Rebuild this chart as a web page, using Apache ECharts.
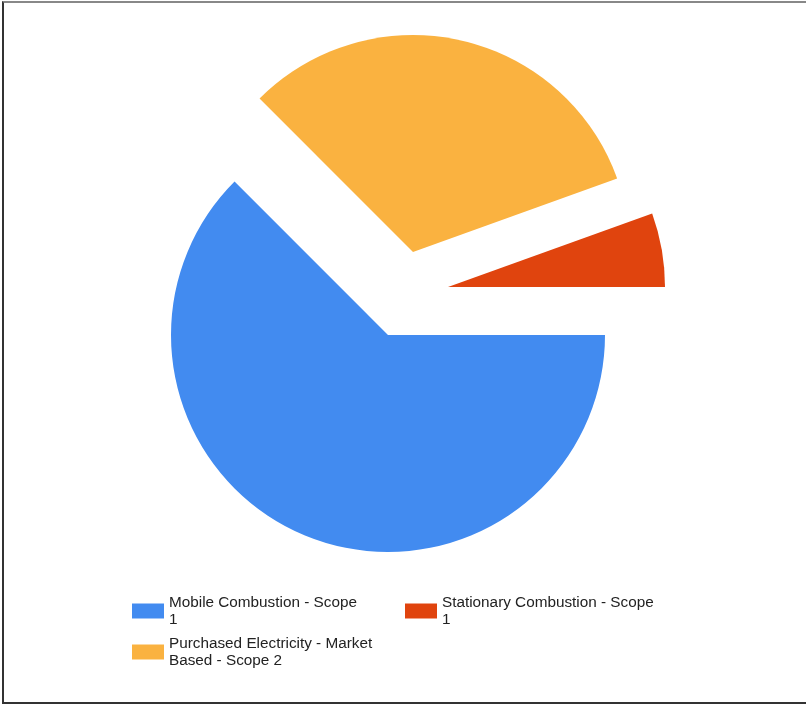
<!DOCTYPE html>
<html>
<head>
<meta charset="utf-8">
<script src="https://cdn.jsdelivr.net/npm/echarts@6/dist/echarts.min.js"></script>
<style>
  html, body { margin: 0; padding: 0; background: #fff; }
  #frame {
    position: absolute; left: 2px; top: 1px; width: 804px; height: 703px;
    border-top: 2px solid #888; border-left: 2px solid #333; border-bottom: 2px solid #333;
    box-sizing: border-box;
  }
  #chart { position: absolute; left: 0; top: 0; width: 806px; height: 704px; }
</style>
</head>
<body>
<div id="frame"></div>
<div id="chart"></div>
<script>
// data
var categories = ['Mobile Combustion - Scope 1', 'Purchased Electricity - Market Based - Scope 2', 'Stationary Combustion - Scope 1'];
var values = [62.5, 32, 5.5];
var colors = ['#428bf0', '#fab240', '#e0440e'];
// legend text as it wraps in the picture
var legendText = {
  'Mobile Combustion - Scope 1': 'Mobile Combustion - Scope\n1',
  'Purchased Electricity - Market Based - Scope 2': 'Purchased Electricity - Market\nBased - Scope 2',
  'Stationary Combustion - Scope 1': 'Stationary Combustion - Scope\n1'
};
// where each exploded slice sits
var centers = [[388, 335], [413, 252], [448, 287]];

var chartDom = document.getElementById('chart');
var myChart = echarts.init(chartDom);
var option;

var series = [];
for (var s = 0; s < categories.length; s++) {
  var data = [];
  for (var i = 0; i < categories.length; i++) {
    data.push({
      name: categories[i],
      value: values[i],
      itemStyle: { color: i === s ? colors[i] : 'rgba(0,0,0,0)' }
    });
  }
  series.push({
    type: 'pie',
    silent: true,
    center: centers[s],
    radius: 217,
    startAngle: 0,
    clockwise: true,
    animation: false,
    label: { show: false },
    labelLine: { show: false },
    itemStyle: { borderWidth: 0 },
    data: data
  });
}

function legendItem(i) {
  return { name: categories[i], itemStyle: { color: colors[i] } };
}

var legendCommon = {
  orient: 'vertical',
  icon: 'rect',
  itemWidth: 32,
  itemHeight: 15,
  itemGap: 7,
  padding: 0,
  selectedMode: false,
  top: 594,
  formatter: function (name) { return legendText[name]; },
  textStyle: { fontFamily: 'Arial, "Liberation Sans"', fontSize: 15.3, lineHeight: 17, color: '#222' }
};

option = {
  backgroundColor: 'transparent',
  legend: [
    Object.assign({}, legendCommon, { left: 132, data: [legendItem(0), legendItem(1)] }),
    Object.assign({}, legendCommon, { left: 405, data: [legendItem(2)] })
  ],
  series: series
};

option && myChart.setOption(option);
window.addEventListener('resize', function () {
  myChart.resize();
});
</script>
</body>
</html>
